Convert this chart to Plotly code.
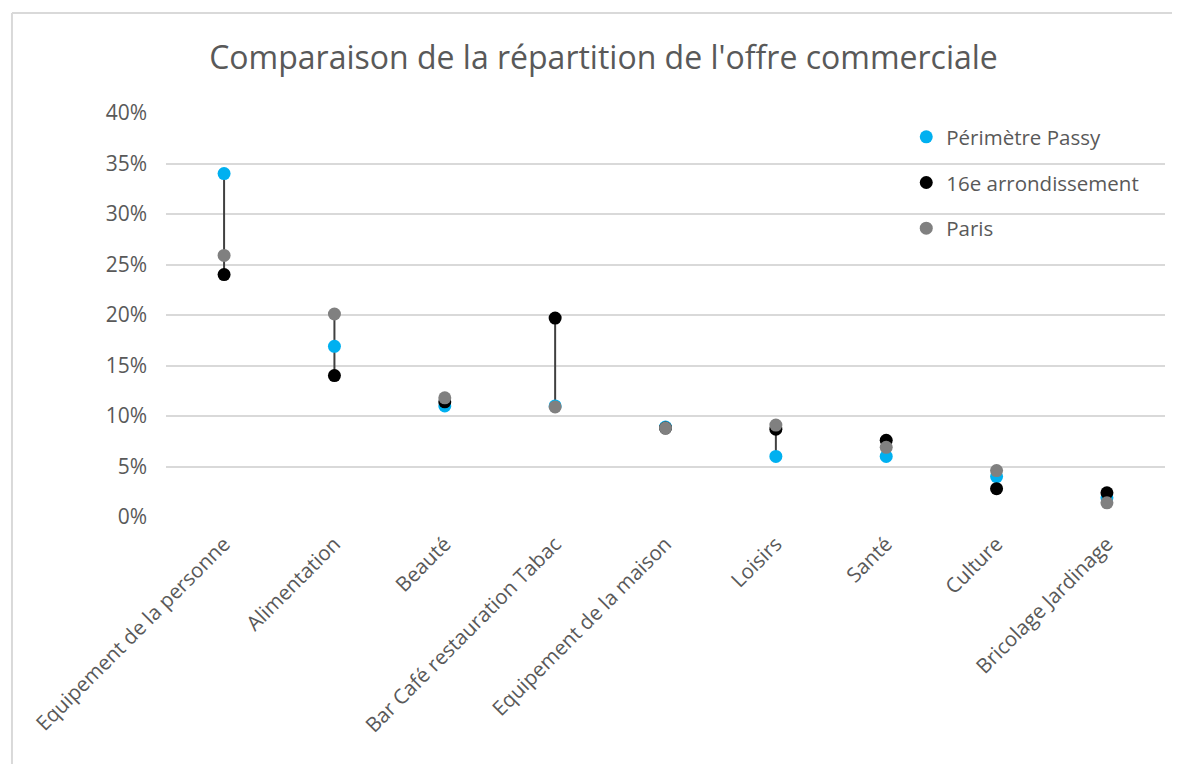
import plotly.graph_objects as go

categories = ["Equipement de la personne", "Alimentation", "Beauté",
              "Bar Café restauration Tabac", "Equipement de la maison",
              "Loisirs", "Santé", "Culture", "Bricolage Jardinage"]
passy = [0.340, 0.169, 0.110, 0.110, 0.089, 0.060, 0.060, 0.040, 0.019]
arr16 = [0.240, 0.140, 0.114, 0.197, 0.088, 0.087, 0.076, 0.028, 0.024]
paris = [0.259, 0.201, 0.118, 0.109, 0.088, 0.091, 0.069, 0.046, 0.014]
series_names = ["Périmètre Passy", "16e arrondissement", "Paris"]
series_colors = ["#00B0F0", "#000000", "#808080"]

fig = go.Figure()

# high-low lines
lx, ly = [], []
for c, a, b, d in zip(categories, passy, arr16, paris):
    vals = [a, b, d]
    lx += [c, c, None]
    ly += [min(vals), max(vals), None]
fig.add_trace(go.Scatter(x=lx, y=ly, mode="lines", line=dict(color="#404040", width=2),
                         showlegend=False, hoverinfo="skip"))

for i, (name, vals, col) in enumerate(zip(series_names, [passy, arr16, paris], series_colors)):
    fig.add_trace(go.Scatter(x=categories, y=vals, mode="markers", name=name,
                             legendgroup=str(i),
                             marker=dict(color=col, size=13)))

fig.update_layout(
    width=1164, height=756,
    margin=dict(l=158, r=7, t=105, b=247),
    paper_bgcolor="white", plot_bgcolor="white",
    title=dict(text="Comparaison de la répartition de l'offre commerciale",
               x=0.5116, xanchor="center", y=0.934, yanchor="middle",
               font=dict(family="Open Sans", size=32, color="#595959")),
    font=dict(family="Open Sans", color="#595959", size=20),
    legend=dict(x=0.741, y=0.99, xanchor="left", yanchor="top",
                bgcolor="rgba(0,0,0,0)", tracegroupgap=16,
                font=dict(size=20.5, color="#595959")),
    showlegend=True,
)
fig.update_yaxes(range=[0, 0.4], dtick=0.05, tickformat=".0%",
                 showgrid=True, gridcolor="#D9D9D9", gridwidth=2,
                 zeroline=False, showline=False, ticks="", ticklen=0,
                 ticklabelstandoff=18,
                 tickfont=dict(size=21, color="#595959"))
fig.update_xaxes(type="category", showgrid=False, showline=False, zeroline=False,
                 tickangle=-45, ticks="", ticklabelstandoff=10,
                 tickfont=dict(size=20.5, color="#595959"))

# outer chart border (top and left edges)
fig.add_shape(type="line", xref="paper", yref="paper",
              x0=-0.1542, x1=1.06, y0=1.2475, y1=1.2475,
              line=dict(color="#D9D9D9", width=2))
fig.add_shape(type="line", xref="paper", yref="paper",
              x0=-0.1542, x1=-0.1542, y0=1.2475, y1=-0.7,
              line=dict(color="#D9D9D9", width=2))

fig.write_html("out.html")
